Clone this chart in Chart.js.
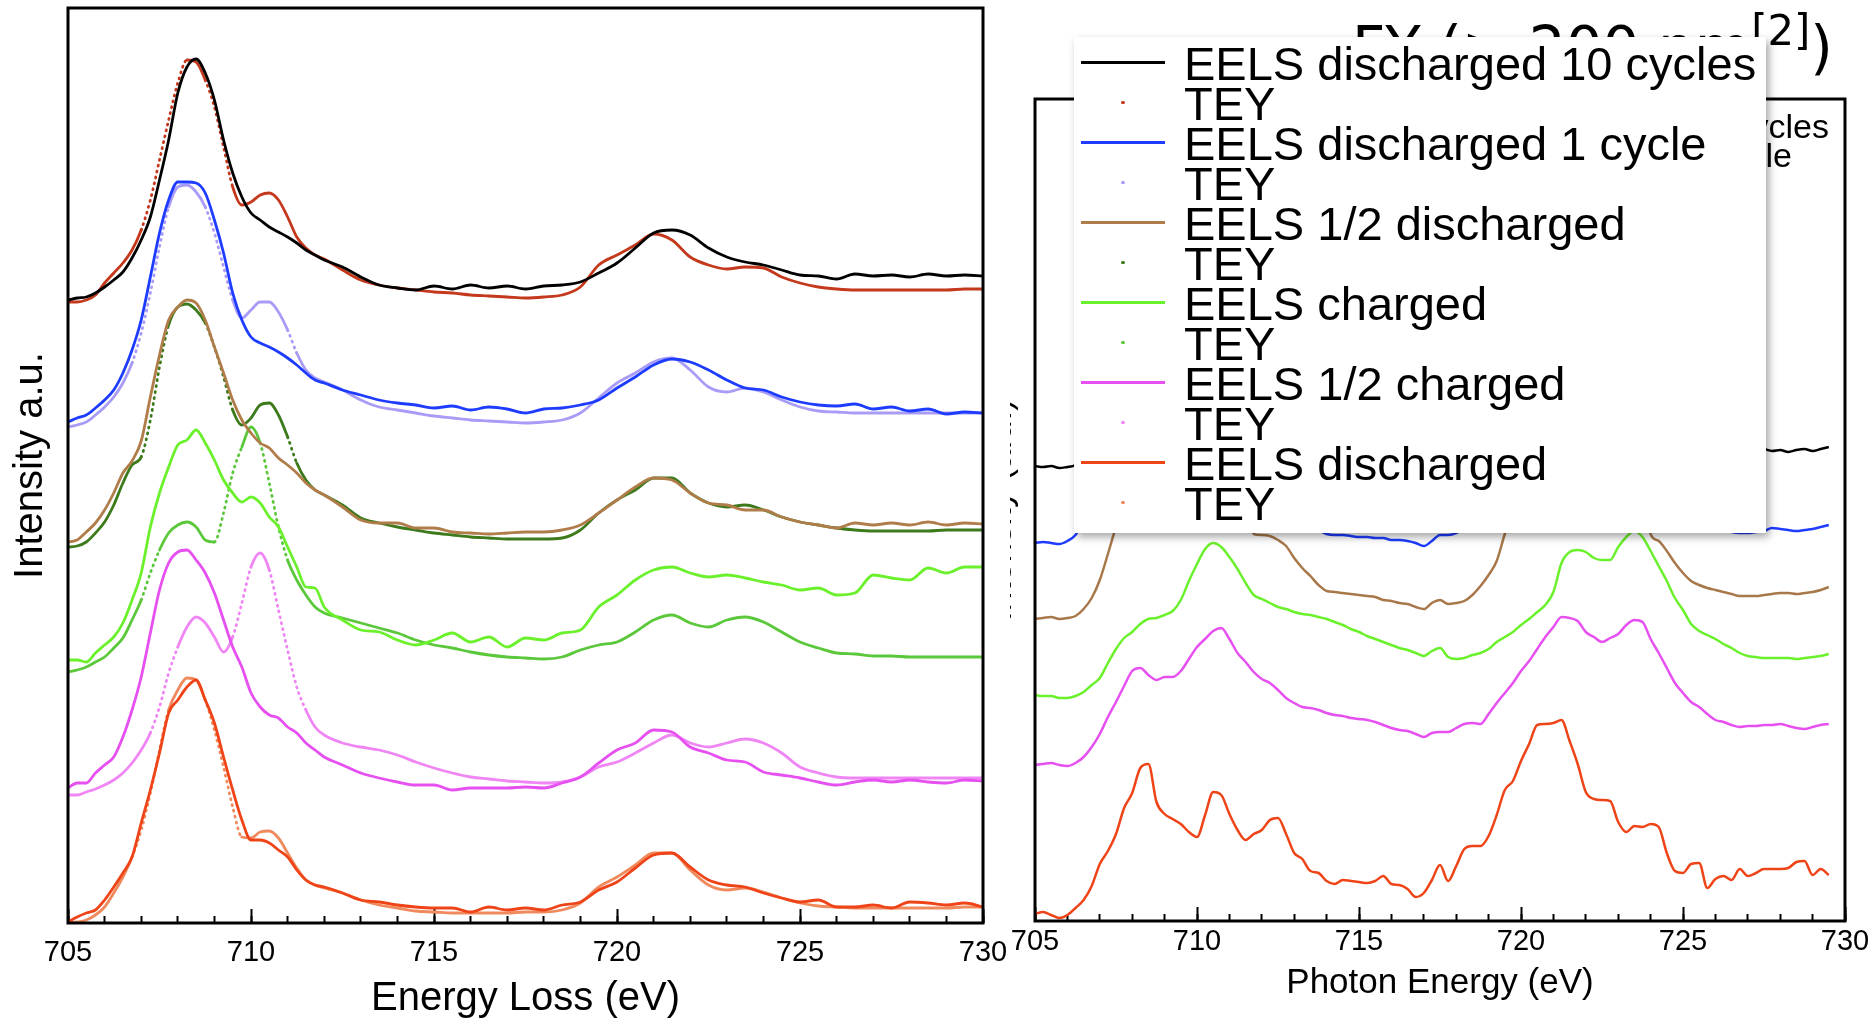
<!DOCTYPE html>
<html>
<head>
<meta charset="utf-8">
<script src="https://cdn.jsdelivr.net/npm/chart.js@4.4.1/dist/chart.umd.min.js"></script>
<style>
  body { margin: 0; background: #fff; }
  #page { position: relative; width: 1876px; height: 1021px; overflow: hidden; background: #fff; }
  #eels { position: absolute; left: 0; top: 0; }
  #tey { position: absolute; left: 1010px; top: 0; }
  #fy { position: absolute; right: 43px; top: 19px; font: 58px/1 'DejaVu Sans', sans-serif; white-space: nowrap; color: #000; }
  #fy sup { font-size: 0.72em; vertical-align: 0.55em; line-height: 0; }
  .key-line { position: absolute; font: 34px/30px 'Liberation Sans', Arial, sans-serif; white-space: nowrap; color: #000; }
  #legend { position: absolute; left: 1074px; top: 37px; width: 692px; height: 496px; box-sizing: border-box;
            padding-top: 7px; background: #fff; box-shadow: 3px 4px 8px rgba(0,0,0,0.35); }
  .row { position: relative; height: 40px; font: 47px/40px 'Liberation Sans', Arial, sans-serif; white-space: nowrap; color: #000; }
  .row .swatch { position: absolute; left: 7px; top: 16.5px; width: 84px; height: 3.5px; }
  .row .dot { position: absolute; left: 47px; top: 16.5px; width: 3.5px; height: 3.5px; border-radius: 50%; }
  .row .label { position: absolute; left: 110px; top: 0; }
</style>
</head>
<body>
<div id="page">
  <canvas id="eels" width="1010" height="1021"></canvas>
  <canvas id="tey" width="866" height="1021"></canvas>
  <div id="fy">FY (&gt; 200 nm<sup>[2]</sup>)</div>
  <div class="key-line" style="right:47px; top:111px">discharged 10 cycles</div>
  <div class="key-line" style="right:84px; top:140px">discharged 1 cycle</div>
  <div id="legend"></div>
</div>
<script>
// energy grids (eV)
const eVLeft = [705,705.25,705.5,705.75,706,706.25,706.5,706.75,707,707.25,707.5,707.75,708,708.25,708.5,708.75,
  709,709.25,709.5,709.75,710,710.25,710.5,710.75,711,711.25,711.5,711.75,712,712.5,713,713.5,714,714.5,715,715.5,
  716,716.5,717,717.5,718,718.5,719,719.5,720,720.5,721,721.5,722,722.5,723,723.5,724,724.5,725,725.5,726,726.5,
  727,727.5,728,728.5,729,729.5,730];
const eVRight = [705,705.25,705.5,705.75,706,706.25,706.5,706.75,707,707.25,707.5,707.75,708,708.25,708.5,708.75,
  709,709.25,709.5,709.75,710,710.25,710.5,710.75,711,711.25,711.5,711.75,712,712.25,712.5,712.75,713,713.25,713.5,
  713.75,714,714.25,714.5,714.75,715,715.25,715.5,715.75,716,716.25,716.5,716.75,717,717.25,717.5,717.75,718,718.25,
  718.5,718.75,719,719.25,719.5,719.75,720,720.25,720.5,720.75,721,721.25,721.5,721.75,722,722.25,722.5,722.75,723,
  723.25,723.5,723.75,724,724.25,724.5,724.75,725,725.25,725.5,725.75,726,726.25,726.5,726.75,727,727.25,727.5,
  727.75,728,728.25,728.5,728.75,729,729.25,729.5];

// left panel: EELS and TEY, stacked with offsets (a.u.)
const eels10 = [623,625,626,630,636,643,651,665,683,706,743,783,830,856,864,850,823,783,750,726,710,703,696,691,686,680,673,668,663,
  656,646,638,635,633,637,634,638,635,637,634,637,638,641,650,660,675,690,693,688,675,666,661,658,653,648,647,644,649,647,648,646,649,647,648,647];
const tey10 = [621,621,623,628,640,650,660,673,693,723,763,803,840,863,861,843,816,776,736,718,721,728,730,723,706,686,675,668,664,
  653,643,638,635,633,631,630,628,627,626,625,626,628,636,658,668,678,689,683,666,658,654,656,655,646,640,636,634,633,633,633,633,633,633,634,634];
const eels1 = [501,505,508,515,523,533,550,573,603,646,690,723,741,741,740,730,703,670,630,603,586,580,576,571,565,558,550,543,540,
  533,528,523,520,518,515,517,513,516,514,510,514,515,518,523,535,546,558,564,561,553,543,535,533,526,521,518,517,519,514,516,512,514,509,511,510];
const tey1 = [496,498,501,508,516,526,540,560,590,630,676,716,736,738,731,716,690,656,623,605,613,621,621,611,593,570,553,545,541,
  533,523,516,513,510,507,505,503,502,501,500,501,503,510,525,540,550,561,565,553,536,531,535,531,523,516,512,511,510,510,510,510,510,510,510,510];
const eelsHalfDis = [381,383,391,400,413,430,450,462,482,526,568,603,616,623,620,603,576,550,523,503,490,480,475,465,458,450,440,433,428,
  416,403,400,400,395,395,391,390,389,390,391,391,393,398,410,423,436,445,443,430,420,418,413,413,406,401,398,395,400,398,400,398,401,398,400,399];
const teyHalfDis = [376,377,381,390,401,418,440,458,466,503,556,598,616,619,613,600,576,546,513,498,505,518,520,508,486,460,443,433,428,
  418,405,400,396,393,390,388,386,385,384,384,384,385,393,410,423,433,445,445,430,420,416,418,413,406,401,398,395,393,392,392,392,392,393,393,393];
const eelsCharged = [263,263,261,270,278,286,300,323,350,396,430,456,478,483,493,480,463,443,430,421,426,420,406,396,376,356,336,335,316,
  303,293,291,283,278,283,290,281,286,276,285,283,290,293,316,328,343,353,356,350,346,348,345,341,338,333,335,328,330,348,345,343,355,350,356,356];
const teyCharged = [251,253,256,261,266,275,285,303,323,350,373,390,398,401,396,383,381,410,450,476,496,480,440,396,363,343,328,316,310,
  305,300,295,290,283,278,275,271,268,266,265,264,266,273,278,281,291,303,308,300,296,303,306,301,291,281,275,270,269,267,267,266,266,266,266,266];
const eelsHalfCh = [135,140,140,150,158,166,186,213,246,290,333,360,371,373,363,350,330,303,276,256,230,216,208,205,196,190,180,173,166,
  158,150,145,141,138,138,133,135,135,135,136,135,140,146,160,173,180,193,191,176,170,163,161,151,148,145,141,138,141,143,141,143,141,140,143,142];
const teyHalfCh = [128,128,131,134,138,143,150,160,173,190,216,250,276,296,306,300,286,271,286,320,356,370,353,313,273,236,213,196,188,
  180,176,173,168,161,155,150,146,144,142,141,140,141,146,156,161,170,180,188,180,176,180,184,180,170,156,150,146,145,145,145,145,145,145,145,145];
const eelsDis = [1,6,10,13,23,36,50,66,100,133,170,210,223,236,243,223,200,166,133,103,83,83,80,73,66,53,43,38,36,
  30,23,21,18,16,15,15,11,16,13,15,13,18,21,33,41,55,68,70,56,43,38,36,30,25,21,23,16,16,18,15,21,20,18,20,16];
const teyDis = [0,1,3,8,16,30,46,66,93,130,173,213,233,245,243,223,193,156,116,86,85,91,92,85,70,55,43,38,35,
  30,23,18,15,12,11,10,10,10,10,11,11,13,20,36,46,58,70,70,53,38,33,35,31,25,20,17,16,15,15,15,15,15,15,16,16];

const sampleNames = ['EELS discharged 10 cycles', 'EELS discharged 1 cycle', 'EELS 1/2 discharged',
  'EELS charged', 'EELS 1/2 charged', 'EELS discharged'];
const eelsColors = ['#000000', '#1e3cff', '#b07c4a', '#6bf02c', '#e650f0', '#ee4418'];
const teyColors = ['#c4381c', '#a89cf6', '#3c7a1c', '#5ac83a', '#ef86f4', '#f08a5c'];
const eelsSeries = [eels10, eels1, eelsHalfDis, eelsCharged, eelsHalfCh, eelsDis];
const teySeries = [tey10, tey1, teyHalfDis, teyCharged, teyHalfCh, teyDis];

// right panel: TEY reference spectra vs photon energy (a.u.)
const ref10 = [455,454,455,453,454,456,470,500,530,555,575,590,600,605,608,612,620,632,645,655,662,665,662,650,
  630,610,595,582,570,560,550,542,536,531,527,523,520,517,515,513,511,509,507,506,505,504,503,501,503,506,507,508,
  510,514,520,528,540,560,585,605,620,630,638,644,648,650,648,643,640,645,655,668,675,672,660,630,590,555,530,510,
  498,490,485,481,478,476,475,474,474,473,472,470,471,469,471,472,470,472,474];
const ref1 = [378,379,378,377,380,386,400,430,460,490,510,520,525,528,530,535,545,560,575,585,590,592,590,575,
  555,535,515,495,470,450,432,418,408,400,395,391,387,386,386,385,384,384,383,383,381,381,380,378,375,380,386,386,
  388,393,400,410,430,465,505,540,565,582,594,604,612,615,613,606,600,604,618,638,650,648,630,590,540,500,470,446,
  428,414,405,400,396,392,389,388,388,389,390,393,392,391,390,391,392,394,396];
const refHalfDis = [302,303,304,302,303,305,312,323,341,367,394,415,428,436,440,442,448,458,472,486,496,500,498,488,
  470,445,415,387,386,385,381,375,363,353,345,336,330,329,328,327,326,325,324,321,320,318,317,314,312,318,321,317,
  318,320,326,335,346,360,387,410,430,445,455,462,468,472,472,468,465,468,478,490,498,498,485,440,387,380,370,358,
  348,340,336,333,331,329,327,325,325,325,326,327,328,328,327,328,329,331,334];
const refCharged = [226,225,225,223,223,225,229,236,243,258,272,283,289,297,302,303,306,310,321,340,357,372,378,374,
  364,352,338,326,322,318,314,312,309,307,306,304,302,299,296,292,289,285,282,279,276,273,271,268,265,270,273,264,
  262,263,266,268,272,279,284,289,296,302,309,316,329,358,369,371,369,363,361,361,374,384,390,384,370,355,340,323,
  311,297,290,286,282,277,273,268,265,264,263,263,263,263,262,263,264,265,267];
const refHalfCh = [156,157,158,156,155,158,164,174,187,204,219,235,250,253,246,241,244,244,250,262,274,282,290,293,
  282,268,259,249,242,238,231,223,218,214,213,211,208,206,205,203,202,201,199,196,193,191,190,187,184,188,189,189,
  193,197,198,197,207,218,228,238,250,260,272,284,294,304,303,300,289,284,279,283,287,296,301,299,282,268,253,238,
  228,219,214,207,201,199,196,194,195,195,196,196,197,195,193,192,194,196,197];
const refDis = [7,9,6,3,6,13,21,35,57,70,87,113,128,153,157,119,107,102,97,89,84,106,129,126,
  107,91,81,87,91,101,103,87,68,62,50,48,40,37,41,40,39,38,40,45,37,36,32,24,28,41,56,40,
  55,72,75,75,85,106,131,140,160,177,196,197,198,201,180,157,129,122,121,120,99,89,95,94,97,94,68,50,
  48,57,58,33,42,45,41,52,45,48,52,52,52,53,59,60,46,52,46];
const refSeries = [ref10, ref1, refHalfDis, refCharged, refHalfCh, refDis];
const refColors = ['#000000', '#1e3cff', '#a8784a', '#6bf02c', '#e650f0', '#ee4418'];

Chart.defaults.font.family = "'Liberation Sans', Arial, Helvetica, sans-serif";
Chart.defaults.color = '#000';

const points = (xs, ys) => xs.map((x, i) => ({ x: x, y: ys[i] }));

// TEY traces were measured as dots: they break up where the curve is steep
const steep = c => Math.abs(c.p1.y - c.p0.y) > 2.5 * Math.abs(c.p1.x - c.p0.x);

const frame = {
  id: 'frame',
  afterDraw(chart) {
    const { ctx, chartArea: a } = chart;
    ctx.save();
    ctx.strokeStyle = '#000';
    ctx.lineWidth = 3;
    ctx.strokeRect(a.left, a.top, a.right - a.left, a.bottom - a.top);
    ctx.restore();
  }
};

// inward ticks: minor every 1 eV on a zero-height axis, major every 5 eV with labels.
// Labels are pushed down with the font line height so the tick padding does not widen the plot.
function energyAxes(tickSize, tickLine, title, titleSize, titlePad, height) {
  return {
    xMinor: {
      type: 'linear', position: 'bottom', min: 705, max: 730, weight: 0,
      ticks: { display: false, stepSize: 1 },
      grid: { drawOnChartArea: false, tickLength: -7, tickWidth: 2, tickColor: '#000' },
      border: { display: false },
      afterFit: s => { s.height = 0; }
    },
    x: {
      type: 'linear', position: 'bottom', min: 705, max: 730, weight: 1,
      ticks: { stepSize: 5, maxRotation: 0, padding: 0, font: { size: tickSize, lineHeight: tickLine } },
      grid: { drawOnChartArea: false, tickLength: -14, tickWidth: 2, tickColor: '#000' },
      border: { display: false },
      title: { display: true, text: title, font: { size: titleSize }, padding: { top: 0, bottom: titlePad } },
      afterFit: s => { s.height = height; }
    }
  };
}

const leftSets = [];
eelsSeries.forEach((s, i) => {
  leftSets.push({ data: points(eVLeft, s), borderColor: eelsColors[i], borderWidth: 2.8,
    cubicInterpolationMode: 'monotone', pointRadius: 0, xAxisID: 'x' });
  leftSets.push({ data: points(eVLeft, teySeries[i]), borderColor: teyColors[i], borderWidth: 2.8,
    borderCapStyle: 'round', cubicInterpolationMode: 'monotone', pointRadius: 0, xAxisID: 'x',
    segment: { borderDash: c => steep(c) ? [1, 5] : undefined } });
});

new Chart(document.getElementById('eels'), {
  type: 'line',
  data: { datasets: leftSets },
  options: {
    responsive: false, animation: false, devicePixelRatio: 1,
    layout: { padding: { left: 0, top: 8, right: 27, bottom: 0 } },
    plugins: { legend: { display: false }, tooltip: { enabled: false } },
    scales: Object.assign(energyAxes(29, 3.06, 'Energy Loss (eV)', 40, -2, 98), {
      y: {
        min: 0, max: 915,
        ticks: { display: false }, grid: { display: false }, border: { display: false },
        title: { display: true, text: 'Intensity a.u.', font: { size: 40 }, padding: { top: 7, bottom: 0 } },
        afterFit: s => { s.width = 68; }
      }
    })
  },
  plugins: [frame]
});

// the y title of this panel sits mostly past the canvas edge, only its lower rim shows
new Chart(document.getElementById('tey'), {
  type: 'line',
  data: {
    datasets: refSeries.map((s, i) => ({
      data: points(eVRight, s), borderColor: refColors[i], borderWidth: 2.5,
      cubicInterpolationMode: 'monotone', pointRadius: 0, xAxisID: 'x'
    }))
  },
  options: {
    responsive: false, animation: false, devicePixelRatio: 1,
    layout: { padding: { left: 0, top: 99, right: 31, bottom: 0 } },
    plugins: { legend: { display: false }, tooltip: { enabled: false } },
    scales: Object.assign(energyAxes(29, 2.44, 'Photon Energy (eV)', 35, 17, 100), {
      y: {
        min: 0, max: 822,
        ticks: { display: false }, grid: { display: false }, border: { display: false },
        title: { display: true, text: 'Intensity (a.u.)', font: { size: 35 }, padding: { top: -30, bottom: 0 } },
        afterFit: s => { s.width = 25; }
      }
    })
  },
  plugins: [frame]
});

// shared key for both panels
const legend = document.getElementById('legend');
sampleNames.forEach((name, i) => {
  const eelsRow = document.createElement('div');
  eelsRow.className = 'row';
  eelsRow.innerHTML = '<span class="swatch" style="background:' + eelsColors[i] + '"></span><span class="label">' + name + '</span>';
  legend.appendChild(eelsRow);
  const teyRow = document.createElement('div');
  teyRow.className = 'row';
  teyRow.innerHTML = '<span class="dot" style="background:' + teyColors[i] + '"></span><span class="label">TEY</span>';
  legend.appendChild(teyRow);
});
</script>
</body>
</html>
